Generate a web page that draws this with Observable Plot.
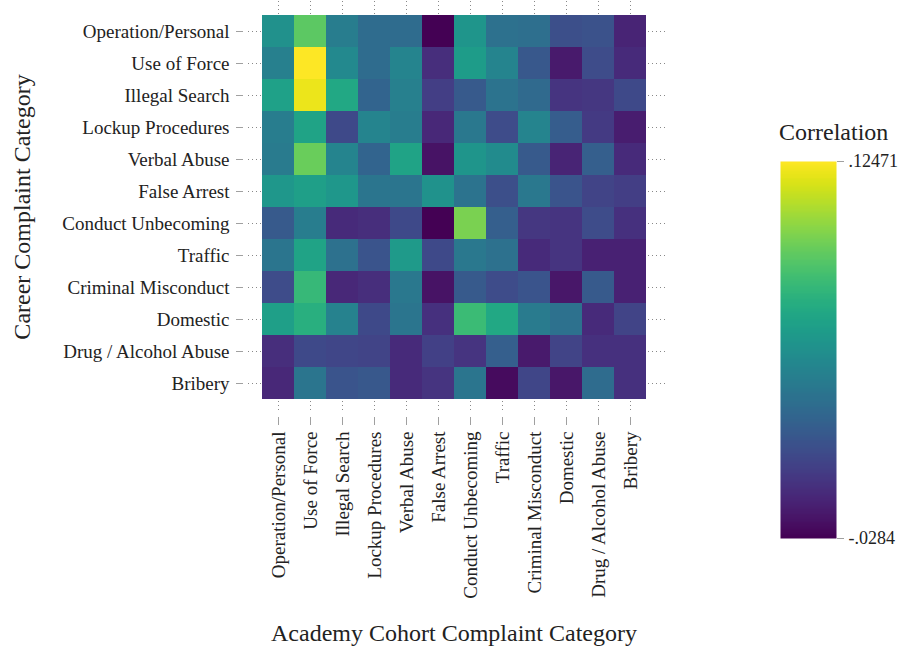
<!DOCTYPE html>
<html>
<head>
<meta charset="utf-8">
<script src="https://cdn.jsdelivr.net/npm/d3@7"></script>
<script src="https://cdn.jsdelivr.net/npm/@observablehq/plot@0.6"></script>
<style>
  html, body { margin: 0; padding: 0; background: #fff; }
  #wrap { position: relative; width: 903px; height: 650px; font-family: "Liberation Serif", "DejaVu Serif", serif; color: #222; }
  #main { position: absolute; left: 0; top: 0; }
  #legendTitle { position: absolute; left: 779px; top: 118px; font-size: 24px; line-height: 28px; }
  #legend { position: absolute; left: 770px; top: 151px; }
</style>
</head>
<body>
<div id="wrap">
  <div id="main"></div>
  <div id="legendTitle">Correlation</div>
  <div id="legend"></div>
</div>
<script>
// Categories (rows = career, columns = academy cohort)
const careerCategories = ["Operation/Personal", "Use of Force", "Illegal Search", "Lockup Procedures", "Verbal Abuse", "False Arrest", "Conduct Unbecoming", "Traffic", "Criminal Misconduct", "Domestic", "Drug / Alcohol Abuse", "Bribery"];
const academyCategories = ["Operation/Personal", "Use of Force", "Illegal Search", "Lockup Procedures", "Verbal Abuse", "False Arrest", "Conduct Unbecoming", "Traffic", "Criminal Misconduct", "Domestic", "Drug / Alcohol Abuse", "Bribery"];

// Correlation values, one array per career category (columns follow academyCategories)
const rowOperationPersonal = [0.0482, 0.0864, 0.0359, 0.0252, 0.0252, -0.0284, 0.0512, 0.0283, 0.0267, 0.0083, 0.0099, -0.0131];
const rowUseOfForce        = [0.0374, 0.1247, 0.0436, 0.0252, 0.0405, -0.0085, 0.0558, 0.0405, 0.0129, -0.0177, 0.0068, -0.0100];
const rowIllegalSearch     = [0.0589, 0.1201, 0.0635, 0.0206, 0.0374, -0.0008, 0.0145, 0.0298, 0.0237, -0.0054, -0.0039, 0.0053];
const rowLockupProcedures  = [0.0359, 0.0604, 0.0053, 0.0405, 0.0359, -0.0116, 0.0328, 0.0068, 0.0405, 0.0160, -0.0024, -0.0162];
const rowVerbalAbuse       = [0.0344, 0.0895, 0.0405, 0.0206, 0.0604, -0.0207, 0.0512, 0.0451, 0.0145, -0.0131, 0.0175, -0.0100];
const rowFalseArrest       = [0.0527, 0.0573, 0.0527, 0.0313, 0.0313, 0.0497, 0.0298, 0.0083, 0.0328, 0.0114, 0.0022, -0.0008];
const rowConductUnbecoming = [0.0145, 0.0359, -0.0100, -0.0085, 0.0053, -0.0284, 0.0941, 0.0175, -0.0039, -0.0054, 0.0068, -0.0070];
const rowTraffic           = [0.0313, 0.0604, 0.0283, 0.0114, 0.0543, 0.0053, 0.0328, 0.0283, -0.0100, -0.0054, -0.0146, -0.0146];
const rowCriminalMisconduct= [0.0068, 0.0742, -0.0116, -0.0085, 0.0328, -0.0207, 0.0145, 0.0068, 0.0114, -0.0192, 0.0145, -0.0146];
const rowDomestic          = [0.0573, 0.0681, 0.0390, 0.0053, 0.0313, -0.0070, 0.0757, 0.0635, 0.0344, 0.0283, -0.0100, 0.0022];
const rowDrugAlcohol       = [-0.0085, 0.0053, 0.0038, 0.0022, -0.0100, 0.0007, -0.0054, 0.0175, -0.0177, 0.0022, -0.0070, -0.0070];
const rowBribery           = [-0.0116, 0.0313, 0.0114, 0.0129, -0.0100, -0.0054, 0.0313, -0.0238, 0.0038, -0.0192, 0.0252, -0.0070];

// Color scale extent and legend tick labels
const colorMin = -0.0284;
const colorMax = 0.12471;
const legendTicks = [0.12471, -0.0284];
const legendTickLabels = [".12471", "-.0284"];

const yTitle = "Career Complaint Category";
const xTitle = "Academy Cohort Complaint Category";

const rows = [rowOperationPersonal, rowUseOfForce, rowIllegalSearch, rowLockupProcedures, rowVerbalAbuse, rowFalseArrest, rowConductUnbecoming, rowTraffic, rowCriminalMisconduct, rowDomestic, rowDrugAlcohol, rowBribery];
const table = [];
rows.forEach((vals, i) => vals.forEach((v, j) => table.push({career: careerCategories[i], academy: academyCategories[j], value: v})));

const font = "Liberation Serif, DejaVu Serif, serif";
const axisGray = "#a0a0a0";
const colorOpts = {type: "linear", scheme: "viridis", domain: [colorMin, colorMax]};

const chart = Plot.plot({
  width: 903,
  height: 650,
  marginLeft: 259,
  marginRight: 255,
  marginTop: 12,
  marginBottom: 249,
  style: {fontFamily: font, fontSize: "19px", color: "#222", background: "transparent"},
  x: {domain: academyCategories, padding: 0, axis: null},
  y: {domain: careerCategories, padding: 0, axis: null},
  color: colorOpts,
  marks: [
    Plot.gridX({stroke: "#888", strokeOpacity: 1, strokeDasharray: "1,3", insetTop: -11, insetBottom: -10}),
    Plot.gridY({stroke: "#888", strokeOpacity: 1, strokeDasharray: "1,3", insetLeft: -11, insetRight: -17}),
    Plot.cell(table, {x: "academy", y: "career", fill: "value", inset: 0}),
    Plot.axisY({anchor: "left", dx: -16, tickSize: 7, tickPadding: 7, stroke: axisGray, fontSize: 19, label: null}),
    Plot.ruleX([academyCategories[0]], {x: d => d, y1: careerCategories[0], y2: careerCategories[careerCategories.length - 1], insetTop: 16.2, insetBottom: 16.2, dx: -32.2, stroke: axisGray, strokeWidth: 1}),
    Plot.axisX({anchor: "bottom", dy: 16, tickSize: 8, tickPadding: 6, tickRotate: -90, stroke: axisGray, fontSize: 19, label: null}),
    Plot.ruleY([careerCategories[careerCategories.length - 1]], {y: d => d, x1: academyCategories[0], x2: academyCategories[academyCategories.length - 1], insetLeft: 16.2, insetRight: 16.2, dy: 32.2, stroke: axisGray, strokeWidth: 1}),
    Plot.text([yTitle], {frameAnchor: "left", dx: -237, rotate: -90, textAnchor: "middle", lineAnchor: "middle", text: d => d, fontSize: 24, fill: "#222"}),
    Plot.text([xTitle], {frameAnchor: "bottom", dy: 232, textAnchor: "middle", lineAnchor: "middle", text: d => d, fontSize: 24, fill: "#222"})
  ]
});
document.getElementById("main").appendChild(chart);

const legend = Plot.plot({
  width: 130,
  height: 397,
  marginLeft: 10,
  marginRight: 64,
  marginTop: 10,
  marginBottom: 10,
  style: {fontFamily: font, fontSize: "18px", color: "#222", background: "transparent"},
  x: {domain: [0, 1], axis: null},
  y: {domain: [colorMin, colorMax], axis: null},
  color: colorOpts,
  marks: [
    Plot.raster({fill: (x, y) => y, x1: 0, x2: 1, y1: colorMin, y2: colorMax, width: 2, height: 200}),
    Plot.axisY({anchor: "right", ticks: legendTicks, tickSize: 7, tickPadding: 5, stroke: axisGray, fontSize: 18,
      tickFormat: d => legendTickLabels[legendTicks.indexOf(d)], label: null})
  ]
});
document.getElementById("legend").appendChild(legend);
</script>
</body>
</html>
